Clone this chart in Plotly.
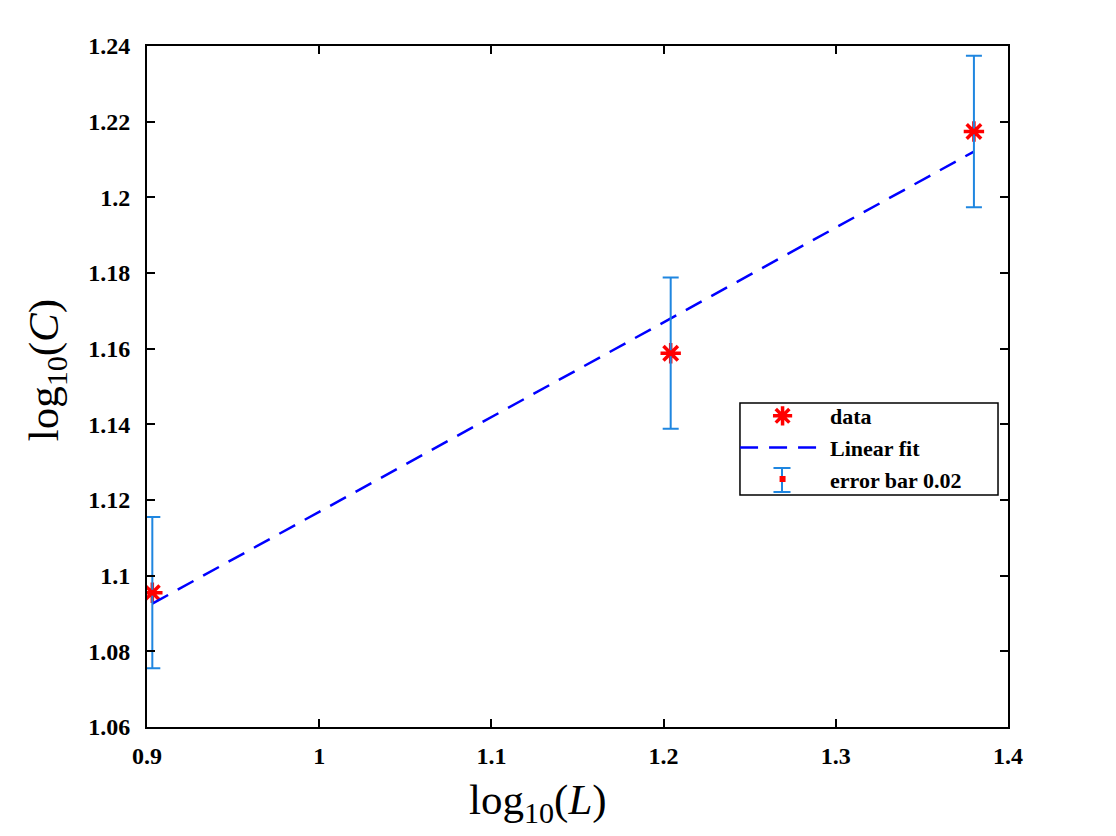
import plotly.graph_objects as go

# data
log_L = [0.90309, 1.20412, 1.38021]
log_C = [1.0955, 1.1588, 1.2174]
err = [0.02, 0.02, 0.02]
fit_x = [0.90309, 1.38021]
fit_y = [1.0926, 1.2121]

x_ticks = [0.9, 1.0, 1.1, 1.2, 1.3, 1.4]
x_labels = ["0.9", "1", "1.1", "1.2", "1.3", "1.4"]
y_ticks = [1.06, 1.08, 1.1, 1.12, 1.14, 1.16, 1.18, 1.2, 1.22, 1.24]
y_labels = ["1.06", "1.08", "1.1", "1.12", "1.14", "1.16", "1.18", "1.2", "1.22", "1.24"]

font_family = "Liberation Serif, Times New Roman, serif"
ebar_color = "#1f86e0"

fig = go.Figure()

fig.add_trace(go.Scatter(
    x=log_L, y=log_C, mode="markers", name="data",
    marker=dict(symbol="asterisk-open", size=17, color="red",
                line=dict(color="red", width=3.5)),
))
fig.add_trace(go.Scatter(
    x=fit_x, y=fit_y, mode="lines", name="Linear fit",
    line=dict(color="#0000ff", width=2.5, dash="18px,11px"),
))
fig.add_trace(go.Scatter(
    x=log_L, y=log_C, mode="markers", name="error bar 0.02",
    marker=dict(symbol="square", size=6, color="red"),
    error_y=dict(type="data", array=err, visible=True, color=ebar_color,
                 thickness=2, width=8),
))

axis_common = dict(
    showgrid=False, zeroline=False, showline=True, linecolor="black", linewidth=2,
    mirror="ticks", ticks="inside", ticklen=8, tickwidth=1.5, tickcolor="black",
    tickfont=dict(family=font_family, size=24, color="black", weight="bold"),
)

# legend frame and error-bar glyph (paper coordinates)
box = dict(x0=0.6887, x1=0.9884, y0=0.3407, y1=0.4758)
gx, gy0, gy1, gcap = 0.7375, 0.3451, 0.3803, 0.0099
shapes = [
    dict(type="rect", xref="paper", yref="paper", **box, layer="above",
         line=dict(color="black", width=1.5), fillcolor="white"),
    dict(type="line", xref="paper", yref="paper", x0=gx, x1=gx, y0=gy0, y1=gy1,
         layer="above", line=dict(color=ebar_color, width=2)),
    dict(type="line", xref="paper", yref="paper", x0=gx - gcap, x1=gx + gcap, y0=gy0, y1=gy0,
         layer="above", line=dict(color=ebar_color, width=2)),
    dict(type="line", xref="paper", yref="paper", x0=gx - gcap, x1=gx + gcap, y0=gy1, y1=gy1,
         layer="above", line=dict(color=ebar_color, width=2)),
]

annotations = [
    dict(text="log<sub>10</sub>(<i>L</i>)", xref="paper", yref="paper", x=0.454, y=-0.1116,
         xanchor="center", yanchor="middle", showarrow=False,
         font=dict(family=font_family, size=43, color="black")),
    dict(text="log<sub>10</sub>(<i>C</i>)", xref="paper", yref="paper", x=-0.116, y=0.524,
         xanchor="center", yanchor="middle", showarrow=False, textangle=-90,
         font=dict(family=font_family, size=43, color="black")),
]

fig.update_layout(
    width=1116, height=836,
    paper_bgcolor="white", plot_bgcolor="white",
    margin=dict(l=139, r=116, t=38, b=117),
    font=dict(family=font_family, color="black"),
    xaxis=dict(range=[0.9, 1.4], tickvals=x_ticks, ticktext=x_labels,
               ticklabelstandoff=6, **axis_common),
    yaxis=dict(range=[1.06, 1.24], tickvals=y_ticks, ticktext=y_labels,
               ticklabelstandoff=10, **axis_common),
    shapes=shapes,
    annotations=annotations,
    legend=dict(x=0.683, y=0.4875, xanchor="left", yanchor="top",
                bgcolor="rgba(0,0,0,0)", borderwidth=0,
                font=dict(family=font_family, size=22, color="black", weight="bold"),
                tracegroupgap=0, itemwidth=85),
    showlegend=True,
)

fig.write_html("out.html")
